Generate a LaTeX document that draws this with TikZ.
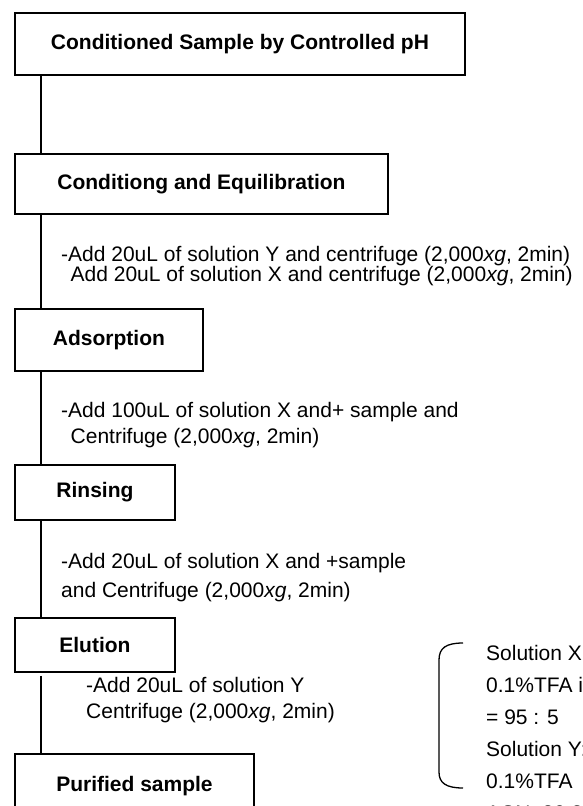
\documentclass[tikz,border=0pt]{standalone}
\usepackage{fontspec}
\setmainfont{Liberation Sans}
\usetikzlibrary{positioning}

\begin{document}
\begin{tikzpicture}[x=1pt,y=-1pt,
 stepbox/.style={draw,line width=1.9pt,anchor=north west,inner sep=0pt,font=\fontsize{21}{24}\selectfont\bfseries},
 note/.style={anchor=west,align=left,inner sep=0pt},
 link/.style={line width=1.3pt}]
\useasboundingbox (0,0) rectangle (582,806);
\clip (0,0) rectangle (582,806);

% steps
\node[stepbox,minimum width=450pt,minimum height=62pt] (start) at (14,12) {Conditioned Sample by Controlled pH};
\node[stepbox,minimum width=373pt,minimum height=60pt] (cond) at (14,153) {Conditiong and Equilibration};
\node[stepbox,minimum width=188pt,minimum height=62pt] (ads) at (14,308) {Adsorption};
\node[stepbox,minimum width=160pt,minimum height=55pt] (rins) at (14,464) {Rinsing};
\node[stepbox,minimum width=160pt,minimum height=54pt] (elu) at (14,617) {Elution};
\node[stepbox,minimum width=239pt,minimum height=64pt] (pur) at (14,753) {Purified sample};

\draw[link] ([xshift=27pt]start.south west) -- ([xshift=27pt]cond.north west);
\draw[link] ([xshift=27pt]cond.south west) -- ([xshift=27pt]ads.north west);
\draw[link] ([xshift=27pt]ads.south west) -- ([xshift=27pt]rins.north west);
\draw[link] ([xshift=27pt]rins.south west) -- ([xshift=27pt]elu.north west);
\draw[link,shorten <=3pt] ([xshift=27pt]elu.south west) -- ([xshift=27pt]pur.north west);

% instructions
\node[note,font=\fontsize{21}{20}\selectfont] (condtxt) at (61,266)
 {-Add 20uL of solution Y and centrifuge (2,000\textit{xg}, 2min)\\\hspace*{9.5pt}Add 20uL of solution X and centrifuge (2,000\textit{xg}, 2min)};
\node[note,font=\fontsize{21}{26}\selectfont] (adstxt) at (61,425)
 {-Add 100uL of solution X and+ sample and\\\hspace*{9.5pt}Centrifuge (2,000\textit{xg}, 2min)};
\node[note,font=\fontsize{21}{29}\selectfont] (rinstxt) at (61,577.5)
 {-Add 20uL of solution X and +sample\\and Centrifuge (2,000\textit{xg}, 2min)};
\node[note,font=\fontsize{21}{26}\selectfont] (elutxt) at (86,700)
 {-Add 20uL of solution Y\\Centrifuge (2,000\textit{xg}, 2min)};

% solutions
\draw[link] (463,643) .. controls (446,643) and (439,648) .. (439,660) -- (439,772)
 .. controls (439,783) and (446,788) .. (463,788);
\node[anchor=north west,align=left,inner sep=0pt,font=\fontsize{21}{32}\selectfont] (soln) at (486,645)
 {Solution X:\\0.1\%TFA in\\ = 95 : 5\\Solution Y:\\0.1\%TFA\\ACN: 20:80};
\end{tikzpicture}
\end{document}
